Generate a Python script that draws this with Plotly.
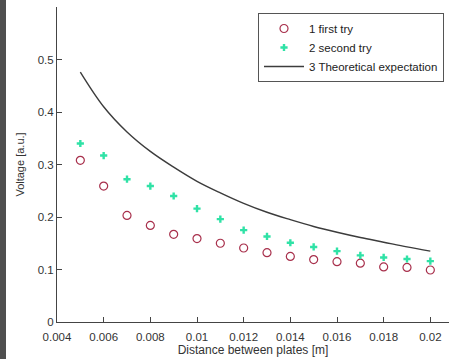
import plotly.graph_objects as go

distance = [0.005, 0.006, 0.007, 0.008, 0.009, 0.010, 0.011, 0.012,
            0.013, 0.014, 0.015, 0.016, 0.017, 0.018, 0.019, 0.020]
first_try = [0.308, 0.259, 0.203, 0.184, 0.167, 0.159, 0.150, 0.141,
             0.132, 0.125, 0.119, 0.115, 0.112, 0.105, 0.104, 0.099]
second_try = [0.340, 0.317, 0.272, 0.259, 0.240, 0.216, 0.196, 0.175,
              0.163, 0.151, 0.143, 0.135, 0.127, 0.123, 0.120, 0.116]
theory = [0.476, 0.410, 0.362, 0.325, 0.295, 0.268, 0.246, 0.226,
          0.209, 0.195, 0.182, 0.171, 0.161, 0.152, 0.143, 0.135]

x_ticks = [0.004, 0.006, 0.008, 0.01, 0.012, 0.014, 0.016, 0.018, 0.02]
x_ticklabels = ["0.004", "0.006", "0.008", "0.01", "0.012", "0.014", "0.016", "0.018", "0.02"]
y_ticks = [0, 0.1, 0.2, 0.3, 0.4, 0.5]
y_ticklabels = ["0", "0.1", "0.2", "0.3", "0.4", "0.5"]

FONT = "Liberation Sans, Arial, sans-serif"

fig = go.Figure()
fig.add_trace(go.Scatter(
    x=distance, y=first_try, mode="markers", name="1 first try",
    marker=dict(symbol="circle-open", size=8, color="#a8304c", line=dict(width=1.2)),
))
fig.add_trace(go.Scatter(
    x=distance, y=second_try, mode="markers", name="2 second try",
    marker=dict(symbol="cross", size=6, color="#2fe2a6", line=dict(width=0)),
))
fig.add_trace(go.Scatter(
    x=distance, y=theory, mode="lines", name="3 Theoretical expectation",
    line=dict(color="#3c3c3c", width=1.4, shape="spline"),
))

fig.update_layout(
    width=457, height=359,
    margin=dict(l=57, r=8, t=7, b=37),
    paper_bgcolor="white", plot_bgcolor="white",
    font=dict(family=FONT, size=11, color="#333333"),
    showlegend=True,
    legend=dict(
        x=(258 - 57) / 392, y=(322 - 13) / 315, xanchor="left", yanchor="top",
        bordercolor="#555555", borderwidth=1, bgcolor="white",
        font=dict(family=FONT, size=11.5, color="#222222"),
        itemwidth=40, tracegroupgap=0,
    ),
    shapes=[dict(
        type="rect", xref="paper", yref="paper",
        x0=-57/392, x1=-51/392, y0=-37/315, y1=1 + 7/315,
        fillcolor="#4f4f4f", line=dict(width=0), layer="above",
    )],
)
fig.update_xaxes(
    range=[0.004, 0.0208], tickvals=x_ticks, ticktext=x_ticklabels,
    showline=True, linecolor="#444444", linewidth=1, mirror=False,
    ticks="inside", ticklen=5, tickcolor="#444444", ticklabelstandoff=4,
    showgrid=False, zeroline=False, tickfont=dict(size=11.5),
    title=dict(text="Distance between plates [m]", standoff=0, font=dict(size=12)),
)
fig.update_yaxes(
    range=[0, 0.6], tickvals=y_ticks, ticktext=y_ticklabels,
    showline=True, linecolor="#444444", linewidth=1, mirror=False,
    ticks="inside", ticklen=5, tickcolor="#444444",
    showgrid=False, zeroline=False, tickfont=dict(size=11.5),
    title=dict(text="Voltage [a.u.]", standoff=10, font=dict(size=11)),
)

fig.write_html("out.html", config={"displayModeBar": False},
               post_script="document.body.style.margin='0';")
